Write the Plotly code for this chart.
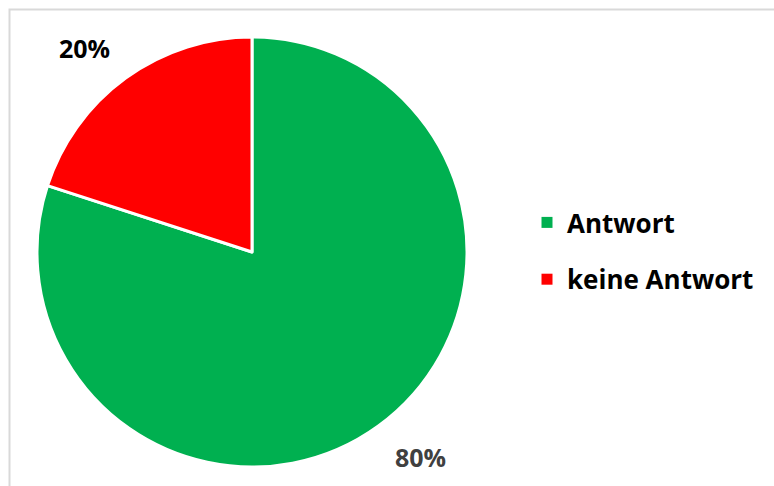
import plotly.graph_objects as go

categories = ["Antwort", "keine Antwort"]
values = [80, 20]
colors = ["#00B050", "#FF0000"]

W, H = 774, 486
FONT = "Open Sans"

fig = go.Figure()

# pie centre ~ (252,252), radius ~215
cx, cy, r = 252, 252, 215
fig.add_trace(go.Pie(
    labels=categories, values=values, sort=False, direction="clockwise",
    rotation=0, marker=dict(colors=colors, line=dict(color="white", width=3)),
    textinfo="none", hoverinfo="label+percent", showlegend=False,
    domain=dict(x=[(cx - r) / W, (cx + r) / W], y=[(H - cy - r) / H, (H - cy + r) / H]),
))

# legend entries (separate groups so spacing can be set)
for i, (cat, col) in enumerate(zip(categories, colors)):
    fig.add_trace(go.Scatter(
        x=[None], y=[None], mode="markers", name=cat, legendgroup=f"g{i}",
        marker=dict(symbol="square", size=11, color=col), showlegend=True,
    ))

total = sum(values)
pct = [f"{round(v / total * 100)}%" for v in values]
label_pos = [(420, 457, "#404040"), (84, 47.5, "#000000")]
for txt, (px, py, col) in zip(pct, label_pos):
    fig.add_annotation(
        x=px / W, y=1 - py / H, xref="paper", yref="paper", text=f"<b>{txt}</b>",
        showarrow=False, xanchor="center", yanchor="middle",
        font=dict(family=FONT, size=25, color=col),
    )

# chart border (extends past right/bottom edges)
fig.add_shape(type="rect", xref="paper", yref="paper",
              x0=9.5 / W, x1=1.05, y0=-0.05, y1=1 - 9.5 / H,
              line=dict(color="#D9D9D9", width=2), fillcolor="rgba(0,0,0,0)", layer="below")

fig.update_layout(
    width=W, height=H, margin=dict(l=0, r=0, t=0, b=0),
    paper_bgcolor="white", plot_bgcolor="white",
    xaxis=dict(visible=False), yaxis=dict(visible=False),
    legend=dict(x=527 / W, y=1 - 199 / H, xanchor="left", yanchor="top",
                font=dict(family=FONT, size=26, color="#000000", weight="bold"),
                tracegroupgap=20, itemwidth=30, bgcolor="rgba(0,0,0,0)"),
    font=dict(family=FONT),
)

fig.write_html("out.html", config={"displayModeBar": False},
               post_script="document.body.style.margin='0';document.body.style.overflow='hidden';")
